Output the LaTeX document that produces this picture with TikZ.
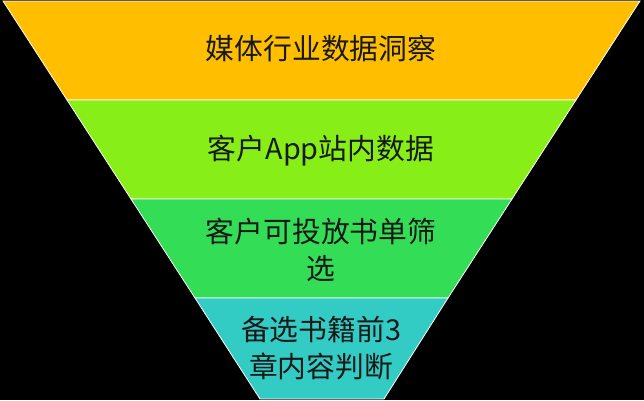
\documentclass[tikz,border=0pt]{standalone}
\usepackage{fontspec}
\setmainfont{Noto Sans CJK SC}
\usepackage{tikz}

\definecolor{bandA}{HTML}{FFBF00}
\definecolor{bandB}{HTML}{88EE18}
\definecolor{bandC}{HTML}{33DD55}
\definecolor{bandD}{HTML}{33CCC4}

\begin{document}
\begin{tikzpicture}[
    x=1pt, y=-1pt,
    font=\fontsize{28.8}{37}\selectfont,
    band/.style={draw=white, line width=0.8pt, line join=miter},
    label/.style={text=black!90, align=center, inner sep=0pt}
]
\fill[black] (0,0) rectangle (644,400);
\useasboundingbox (0,0) rectangle (644,400);

% funnel layers
\filldraw[band, fill=bandA] (3,1) -- (640,1) -- (576,100) -- (67,100) -- cycle;
\filldraw[band, fill=bandB] (67,100) -- (576,100) -- (512,199) -- (131,199) -- cycle;
\filldraw[band, fill=bandC] (131,199) -- (512,199) -- (448,298) -- (195,298) -- cycle;
\filldraw[band, fill=bandD] (195,298) -- (448,298) -- (384,399) -- (260,399) -- cycle;

\node[label] (media) at (321,49) {媒体行业数据洞察};
\node[label] (inapp) at (321,151) {客户App站内数据};
\node[label] (books) at (321,250) {客户可投放书单筛\\选};
\node[label] (chapters) at (321,348) {备选书籍前3\\章内容判断};
\end{tikzpicture}
\end{document}
